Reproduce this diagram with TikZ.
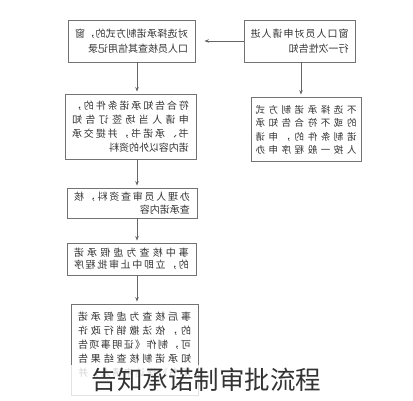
\documentclass[tikz,border=0pt]{standalone}
\usepackage{graphicx}
\usepackage{fontspec}
\setmainfont{Noto Sans CJK SC}
\usetikzlibrary{calc,arrows.meta}
\def\jstart#1{#1\jnext}
\def\jnext#1{\ifx#1\jend\else\hfil#1\expandafter\jnext\fi}
\let\jend\relax
\def\jl#1{\hbox to\jw{\jstart#1\jend}}
\def\ll#1{\hbox{#1}}
\def\btext#1#2#3{\reflectbox{\vbox{\def\jw{#1}\baselineskip=#2\lineskiplimit=-20pt #3}}}
\tikzset{
  flowbox/.style={draw=black!55, line width=0.8pt, inner sep=0pt, text=black!80},
  flowline/.style={draw=black!60, line width=0.8pt, -{Stealth[length=4.5pt,width=3.5pt]}, shorten >=2pt},
}

\begin{document}
\begin{tikzpicture}[x=1pt,y=-1pt]
		%%%%% START %%%%%
		\useasboundingbox (0,0) rectangle (413,400);
		\coordinate (fx) at (137,0);
		\coordinate (gx) at (301,0);
		
		\node[flowbox, minimum width=127, minimum height=42, font=\fontsize{10}{14}\selectfont] (check) at (131.5,41)
			{\btext{113pt}{15pt}{\jl{对选择承诺制方式的，窗}\ll{口人员核查其信用记录}}};
		\node[flowbox, minimum width=111, minimum height=42, font=\fontsize{10}{14}\selectfont] (inform) at (299.5,41)
			{\btext{98pt}{15pt}{\jl{窗口人员对申请人进}\ll{行一次性告知}}};
		
		\node[flowbox, minimum width=131, minimum height=65, font=\fontsize{10}{14}\selectfont] (sign) at (130.5,126.5)
			{\btext{117pt}{14pt}{\jl{符合告知承诺条件的，}\jl{申请人当场签订告知}\jl{书、承诺书，并提交承}\ll{诺内容以外的资料}}};
		\node[flowbox, minimum width=110, minimum height=64] (normal) at (306,129) {};
		\node[font=\fontsize{9.5}{13}\selectfont, text=black!80, anchor=north] (normaltxt) at ($(normal.north)+(0,5)$)
			{\btext{101pt}{13.5pt}{\jl{不选择承诺制方式}\jl{的或不符合告知承}\jl{诺制条件的，申请}\jl{人按一般程序申办}}};
		
		\node[flowbox, minimum width=130, minimum height=30, font=\fontsize{10}{14}\selectfont] (review) at (132,203)
			{\btext{116pt}{12.5pt}{\jl{办理人员审查资料，核}\ll{查承诺内容}}};
		\node[flowbox, minimum width=129, minimum height=32, font=\fontsize{10}{14}\selectfont] (midcheck) at (131.5,259)
			{\btext{115pt}{12.5pt}{\jl{事中核查为虚假承诺}\jl{的，立即中止审批程序}}};
		
		\node[flowbox, minimum width=127, minimum height=91] (postcheck) at (134.5,349.5) {};
		\node[font=\fontsize{10}{14}\selectfont, text=black!80, anchor=north] (posttxt) at ($(postcheck.north)+(0,5)$)
			{\btext{113pt}{14pt}{\jl{事后核查为虚假承诺}\jl{的，依法撤销行政许}\jl{可，制作《证明事项告}\jl{知承诺制核查结果告}\jl{知书》送达申请人，并}}};
		
		\draw[flowline, shorten >=9pt] (inform.west) -- (check.east);
		\draw[flowline] (check.south -| fx) -- (sign.north -| fx);
		\draw[flowline] (inform.south -| gx) -- (normal.north -| gx);
		\draw[flowline] (sign.south -| fx) -- (review.north -| fx);
		\draw[flowline] (review.south -| fx) -- (midcheck.north -| fx);
		\draw[flowline] (midcheck.south -| fx) -- (postcheck.north -| fx);
		
		\fill[white, opacity=0.8] (0,365) rectangle (413,400);
		\node[font=\fontsize{25.5}{30}\selectfont, text=black!80] (title) at (206.5,380) {告知承诺制审批流程};
		%%%%% END %%%%%
\end{tikzpicture}
\end{document}
